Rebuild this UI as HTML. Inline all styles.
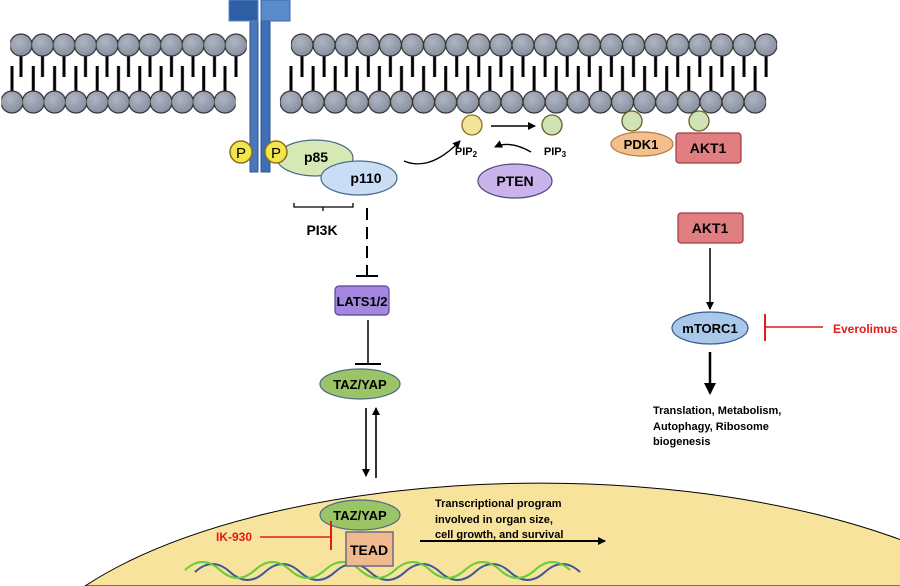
<!DOCTYPE html>
<html><head><meta charset="utf-8"><style>html,body{margin:0;background:#fff;overflow:hidden;width:900px;height:586px}svg{display:block}text{font-family:"Liberation Sans",Arial,sans-serif;font-weight:bold}</style></head><body>
<svg width="900" height="586" viewBox="0 0 900 586" xmlns="http://www.w3.org/2000/svg">
<defs>
<radialGradient id="hd" cx="0.4" cy="0.35" r="0.7"><stop offset="0" stop-color="#aeb5c3"/><stop offset="1" stop-color="#858d9d"/></radialGradient>
<pattern id="pL1" patternUnits="userSpaceOnUse" x="10.25" y="33" width="21.5" height="50"><line x1="10.75" y1="10" x2="10.75" y2="44" stroke="#000" stroke-width="3"/><circle cx="10.75" cy="12" r="11" fill="url(#hd)" stroke="#333" stroke-width="1.2"/></pattern>
<pattern id="pL2" patternUnits="userSpaceOnUse" x="1.35" y="60" width="21.3" height="54"><line x1="10.65" y1="6" x2="10.65" y2="38" stroke="#000" stroke-width="3"/><circle cx="10.65" cy="42" r="11" fill="url(#hd)" stroke="#333" stroke-width="1.2"/></pattern>
<pattern id="pR1" patternUnits="userSpaceOnUse" x="290.95" y="33" width="22.1" height="50"><line x1="11.05" y1="10" x2="11.05" y2="44" stroke="#000" stroke-width="3"/><circle cx="11.05" cy="12" r="11" fill="url(#hd)" stroke="#333" stroke-width="1.2"/></pattern>
<pattern id="pR2" patternUnits="userSpaceOnUse" x="279.95" y="60" width="22.1" height="54"><line x1="11.05" y1="6" x2="11.05" y2="38" stroke="#000" stroke-width="3"/><circle cx="11.05" cy="42" r="11" fill="url(#hd)" stroke="#333" stroke-width="1.2"/></pattern>
<marker id="ar" markerWidth="8" markerHeight="8" refX="7" refY="4" orient="auto" markerUnits="userSpaceOnUse"><path d="M0,0 L8,4 L0,8z" fill="#000"/></marker>
<marker id="ar2" markerWidth="12" markerHeight="12" refX="10" refY="6" orient="auto" markerUnits="userSpaceOnUse"><path d="M0,0 L12,6 L0,12z" fill="#000"/></marker>
</defs>
<rect x="10.25" y="33" width="236.5" height="50" fill="url(#pL1)"/>
<rect x="1.35" y="60" width="234.3" height="54" fill="url(#pL2)"/>
<rect x="290.95" y="33" width="486.2" height="50" fill="url(#pR1)"/>
<rect x="279.95" y="60" width="486.2" height="54" fill="url(#pR2)"/>
<rect x="250" y="18" width="8" height="154" fill="#4a78b8" stroke="#2d5490"/>
<rect x="261" y="18" width="9" height="154" fill="#3e6eb3" stroke="#2d5490"/>
<rect x="229" y="0" width="29" height="21" fill="#2e5fa5" stroke="#5b87c5"/>
<rect x="261" y="0" width="29" height="21" fill="#5b8acb" stroke="#3b6aab"/>
<circle cx="241" cy="152" r="11" fill="#f3e64a" stroke="#8a6d1e" stroke-width="1.5"/><text x="241" y="158" font-size="15" text-anchor="middle" style="font-weight:normal">P</text>
<ellipse cx="315" cy="158" rx="38" ry="18" fill="#d6e8b4" stroke="#4a6a8a" stroke-width="1.2"/>
<circle cx="276" cy="152" r="11" fill="#f3e64a" stroke="#8a6d1e" stroke-width="1.5"/><text x="276" y="158" font-size="15" text-anchor="middle" style="font-weight:normal">P</text>
<text x="316" y="162" font-size="14" text-anchor="middle">p85</text>
<ellipse cx="359" cy="178" rx="38" ry="17" fill="#c9def5" stroke="#4a6a8a" stroke-width="1.2"/>
<text x="366" y="183" font-size="14" text-anchor="middle">p110</text>
<path d="M294,203 V207 H353 V203 M323,207 V211" fill="none" stroke="#000" stroke-width="1.3"/>
<text x="322" y="235" font-size="14" text-anchor="middle">PI3K</text>
<line x1="367" y1="208" x2="367" y2="275" stroke="#000" stroke-width="2" stroke-dasharray="12,7"/>
<line x1="356" y1="276" x2="378" y2="276" stroke="#000" stroke-width="2"/>
<rect x="335" y="286" width="54" height="29" rx="4" fill="#a488e0" stroke="#5a3f9a" stroke-width="1.2"/>
<text x="362" y="306" font-size="13" text-anchor="middle">LATS1/2</text>
<line x1="368" y1="320" x2="368" y2="364" stroke="#000" stroke-width="1.5"/>
<line x1="355" y1="364" x2="381" y2="364" stroke="#000" stroke-width="2"/>
<ellipse cx="360" cy="384" rx="40" ry="15" fill="#9bc466" stroke="#4a6a8a" stroke-width="1.2"/>
<text x="360" y="389" font-size="13" text-anchor="middle">TAZ/YAP</text>
<line x1="366" y1="408" x2="366" y2="476" stroke="#000" stroke-width="1.6" marker-end="url(#ar)"/>
<line x1="376" y1="478" x2="376" y2="408" stroke="#000" stroke-width="1.6" marker-end="url(#ar)"/>
<circle cx="472" cy="125" r="10" fill="#f1e39a" stroke="#8a6d1e" stroke-width="1.3"/>
<circle cx="552" cy="125" r="10" fill="#cfe3b5" stroke="#6a5a2a" stroke-width="1.3"/>
<line x1="491" y1="126" x2="535" y2="126" stroke="#000" stroke-width="1.5" marker-end="url(#ar)"/>
<text x="466" y="155" font-size="11" text-anchor="middle">PIP<tspan font-size="8" dy="2">2</tspan></text>
<text x="555" y="155" font-size="11" text-anchor="middle">PIP<tspan font-size="8" dy="2">3</tspan></text>
<path d="M404,161 Q430,172 460,141" fill="none" stroke="#000" stroke-width="1.3" marker-end="url(#ar)"/>
<path d="M531,152 Q510,140 495,147" fill="none" stroke="#000" stroke-width="1.3" marker-end="url(#ar)"/>
<ellipse cx="515" cy="181" rx="37" ry="17" fill="#c9b3ea" stroke="#4a4a7a" stroke-width="1.2"/>
<text x="515" y="186" font-size="14" text-anchor="middle">PTEN</text>
<circle cx="632" cy="121" r="10" fill="#cfe3b5" stroke="#6a5a2a" stroke-width="1.3"/>
<circle cx="699" cy="121" r="10" fill="#cfe3b5" stroke="#6a5a2a" stroke-width="1.3"/>
<ellipse cx="642" cy="144" rx="31" ry="12" fill="#f3bf8a" stroke="#b07a4a" stroke-width="1.2"/>
<text x="641" y="149" font-size="13" text-anchor="middle">PDK1</text>
<rect x="676" y="133" width="65" height="30" rx="3" fill="#e07e82" stroke="#a03a40" stroke-width="1.2"/>
<text x="708" y="153" font-size="14" text-anchor="middle">AKT1</text>
<rect x="678" y="213" width="65" height="30" rx="3" fill="#e07e82" stroke="#a03a40" stroke-width="1.2"/>
<text x="710" y="233" font-size="14" text-anchor="middle">AKT1</text>
<line x1="710" y1="248" x2="710" y2="309" stroke="#000" stroke-width="1.5" marker-end="url(#ar)"/>
<ellipse cx="710" cy="328" rx="38" ry="16" fill="#a9c8ea" stroke="#3a5a8a" stroke-width="1.2"/>
<text x="710" y="333" font-size="13" text-anchor="middle">mTORC1</text>
<line x1="765" y1="327" x2="823" y2="327" stroke="#e31a1a" stroke-width="1.5"/>
<line x1="765" y1="314" x2="765" y2="341" stroke="#e31a1a" stroke-width="2"/>
<text x="833" y="333" font-size="12" fill="#e31a1a">Everolimus</text>
<line x1="710" y1="352" x2="710" y2="393" stroke="#000" stroke-width="2.5" marker-end="url(#ar2)"/>
<text x="653" y="414" font-size="11">Translation, Metabolism,</text>
<text x="653" y="430" font-size="11">Autophagy, Ribosome</text>
<text x="653" y="445" font-size="11">biogenesis</text>
<path d="M85,586 A535,217 0 0,1 995,586 Z" fill="#f8e39c" stroke="#000" stroke-width="1"/>
<path d="M195,572 q17.5,-16 35,0 t35,0 t35,0 t35,0 t35,0 t35,0 t35,0 t35,0 t35,0 t35,0 t35,0" fill="none" stroke="#3a5aa0" stroke-width="2"/>
<path d="M185,570 q17.5,-16 35,0 t35,0 t35,0 t35,0 t35,0 t35,0 t35,0 t35,0 t35,0 t35,0 t35,0" fill="none" stroke="#66cc33" stroke-width="2"/>
<ellipse cx="360" cy="515" rx="40" ry="15" fill="#9bc466" stroke="#4a6a8a" stroke-width="1.2"/>
<text x="360" y="520" font-size="13" text-anchor="middle">TAZ/YAP</text>
<rect x="346" y="532" width="47" height="34" fill="#f0b98e" stroke="#6a6a8a" stroke-width="1.5"/>
<text x="369" y="555" font-size="14" text-anchor="middle">TEAD</text>
<line x1="260" y1="537" x2="330" y2="537" stroke="#e31a1a" stroke-width="1.5"/>
<line x1="331" y1="521" x2="331" y2="550" stroke="#e31a1a" stroke-width="2"/>
<text x="252" y="541" font-size="12" fill="#e31a1a" text-anchor="end">IK-930</text>
<line x1="420" y1="541" x2="605" y2="541" stroke="#000" stroke-width="2" marker-end="url(#ar)"/>
<text x="435" y="507" font-size="11">Transcriptional program</text>
<text x="435" y="523" font-size="11">involved in organ size,</text>
<text x="435" y="538" font-size="11">cell growth, and survival</text>
</svg>
</body></html>
